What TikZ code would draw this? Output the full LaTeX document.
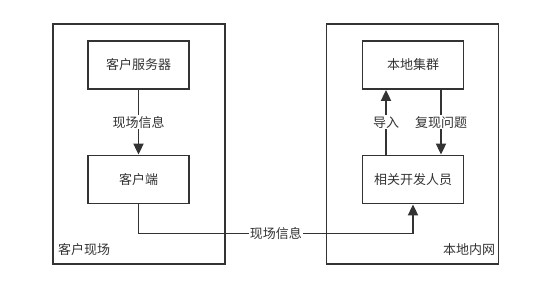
\documentclass[tikz,border=0pt]{standalone}
\usepackage{fontspec}
\newfontfamily\cjk{Noto Sans CJK SC}
\usetikzlibrary{arrows.meta}
\begin{document}
\begin{tikzpicture}[x=1pt, y=-1pt,
    zone/.style={draw=black!80, line width=1.8pt, minimum width=172pt, minimum height=240pt},
    box/.style={draw=black!80, line width=1.8pt, minimum width=101pt, minimum height=48pt,
        font=\cjk\fontsize{13}{15}\selectfont, text=black!80},
    lbl/.style={fill=white, inner sep=1pt, font=\cjk\fontsize{13}{15}\selectfont, text=black!80},
    flow/.style={draw=black!80, line width=1.8pt, -{Triangle[length=11pt, width=10pt]}}]
    \useasboundingbox (0,0) rectangle (554,294);
    % Zones
    \node[zone] (site) at (139,144) {};
    \node[zone] (lan) at (412.5,144) {};
    \node[lbl, fill=none] (sitename) at (84,250) {客户现场};
    \node[lbl, fill=none] (lanname) at (469,250) {本地内网};
    % Client side
    \node[box] (server) at (138.5,65) {客户服务器};
    \node[box] (client) at (138.5,179.5) {客户端};
    \draw[flow] (server) -- node[lbl] {现场信息} (client);
    % Local side
    \node[box] (cluster) at (413,65) {本地集群};
    \node[box] (dev) at (413,179.5) {相关开发人员};
    \draw[flow] (dev.north -| 386,0) -- node[lbl] {导入} (cluster.south -| 386,0);
    \draw[flow] (cluster.south -| 441,0) -- node[lbl] {复现问题} (dev.north -| 441,0);
    % Between the two sides
    \draw[flow] (client.south) -- ++(0,29) -| node[lbl, pos=0.25] {现场信息} (dev.south);
\end{tikzpicture}
\end{document}
